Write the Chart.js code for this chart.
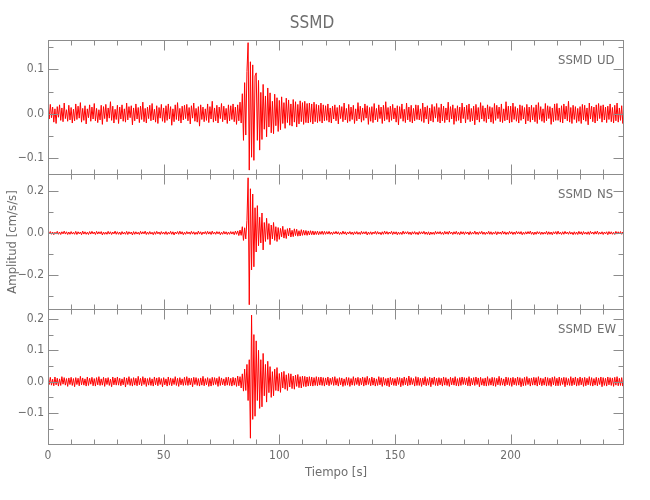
<!DOCTYPE html>
<html>
<head>
<meta charset="utf-8">
<script src="https://cdn.jsdelivr.net/npm/chart.js@4"></script>
<style>
  body { margin: 0; background: #fff; }
  #wrap { position: relative; width: 650px; height: 500px; }
  canvas { position: absolute; left: 0; }
</style>
</head>
<body>
<div id="wrap">
  <canvas id="c1" width="650" height="176" style="top:0px"></canvas>
  <canvas id="c2" width="650" height="137" style="top:174px"></canvas>
  <canvas id="c3" width="650" height="191" style="top:309px"></canvas>
</div>
<script>
// station / components
var station = 'SSMD';
var comps = ['UD', 'NS', 'EW'];

// time axis: two samples per second, start at 0
var t0 = 0;
var dt = 0.5;
var timeRange = [0, 249];
var timeTicks = [0, 50, 100, 150, 200];

// trace peaks every half second (cm/s/s), one row = 10 s
var ud = [
  .018,-.012,.021,-.009,.015,-.019,.011,-.022,.016,-.008,.020,-.015,.013,-.018,.024,-.011,.009,-.017,.019,-.014,
  .014,-.021,.010,-.016,.022,-.013,.017,-.010,.025,-.019,.012,-.015,.018,-.023,.011,-.009,.020,-.017,.015,-.012,
  .023,-.016,.012,-.020,.009,-.014,.019,-.024,.016,-.011,.021,-.018,.013,-.010,.027,-.015,.017,-.021,.010,-.013,
  .019,-.022,.015,-.012,.020,-.017,.011,-.019,.024,-.014,.016,-.009,.018,-.025,.013,-.016,.022,-.012,.014,-.020,
  .017,-.013,.026,-.018,.012,-.021,.015,-.011,.019,-.016,.023,-.014,.010,-.019,.018,-.022,.014,-.010,.021,-.017,
  .013,-.020,.018,-.015,.022,-.012,.016,-.026,.011,-.018,.020,-.013,.025,-.016,.012,-.021,.017,-.014,.019,-.011,
  .021,-.016,.014,-.023,.018,-.010,.024,-.017,.012,-.019,.016,-.028,.020,-.013,.015,-.018,.011,-.015,.022,-.020,
  .016,-.012,.028,-.019,.013,-.016,.019,-.021,.015,-.011,.023,-.018,.017,-.014,.012,-.022,.020,-.016,.018,-.013,
  .022,-.018,.015,-.024,.020,-.016,.026,-.021,.045,-.060,.070,-.048,.095,.160,-.127,.117,-.098,.110,-.105,.085,
  .092,-.060,.075,-.082,.048,-.058,.066,-.035,.040,-.052,.058,-.030,.047,-.043,.028,-.045,.044,-.027,.036,-.040,
  .030,-.036,.038,-.022,.025,-.033,.035,-.020,.031,-.026,.022,-.028,.032,-.019,.027,-.030,.021,-.023,.029,-.018,
  .025,-.024,.028,-.020,.023,-.021,.024,-.019,.022,-.023,.026,-.018,.021,-.020,.019,-.017,.024,-.021,.020,-.016,
  .018,-.015,.022,-.019,.013,-.021,.017,-.012,.020,-.016,.014,-.023,.019,-.011,.016,-.018,.024,-.014,.012,-.020,
  .021,-.017,.015,-.013,.019,-.022,.011,-.016,.025,-.012,.017,-.019,.013,-.015,.022,-.010,.018,-.024,.014,-.017,
  .016,-.020,.023,-.014,.012,-.018,.020,-.011,.015,-.022,.019,-.016,.027,-.013,.014,-.019,.017,-.015,.021,-.012,
  .013,-.019,.018,-.025,.016,-.011,.022,-.017,.010,-.020,.024,-.014,.015,-.018,.019,-.021,.012,-.016,.020,-.013,
  .019,-.014,.011,-.017,.024,-.020,.015,-.012,.018,-.023,.013,-.016,.021,-.019,.016,-.010,.023,-.018,.014,-.021,
  .022,-.016,.017,-.020,.013,-.014,.026,-.019,.016,-.012,.020,-.024,.012,-.017,.018,-.015,.015,-.021,.024,-.011,
  .015,-.021,.019,-.013,.022,-.018,.012,-.016,.017,-.025,.021,-.014,.014,-.019,.025,-.012,.018,-.017,.013,-.020,
  .020,-.012,.016,-.019,.014,-.022,.023,-.015,.019,-.011,.015,-.018,.022,-.020,.011,-.016,.027,-.014,.017,-.021,
  .017,-.019,.024,-.013,.016,-.017,.012,-.021,.020,-.015,.018,-.012,.014,-.023,.021,-.016,.015,-.019,.019,-.014,
  .014,-.018,.020,-.022,.025,-.013,.016,-.017,.011,-.020,.023,-.016,.018,-.011,.016,-.024,.013,-.018,.022,-.015,
  .023,-.015,.013,-.019,.018,-.021,.022,-.012,.017,-.016,.028,-.019,.014,-.022,.019,-.013,.016,-.020,.012,-.017,
  .016,-.022,.021,-.014,.019,-.017,.013,-.025,.024,-.012,.017,-.018,.015,-.021,.020,-.016,.023,-.011,.018,-.019,
  .020,-.014,.015,-.020,.017,-.013,.022,-.018,.014,-.021,.019,-.016,.024,-.019,.013,-.015,.018,-.022,.021,-.017
];
var ns = [
  .006,-.004,.007,-.006,.005,-.008,.004,-.005,.008,-.006,.005,-.007,.006,-.004,.009,-.005,.006,-.007,.005,-.006,
  .007,-.005,.004,-.006,.008,-.007,.006,-.004,.005,-.008,.009,-.005,.006,-.006,.004,-.007,.007,-.005,.008,-.004,
  .005,-.007,.008,-.005,.006,-.004,.007,-.009,.005,-.006,.004,-.006,.008,-.005,.006,-.007,.005,-.004,.009,-.006,
  .006,-.006,.005,-.008,.007,-.005,.004,-.006,.008,-.007,.006,-.004,.005,-.009,.007,-.006,.006,-.005,.004,-.007,
  .008,-.005,.006,-.004,.009,-.007,.005,-.006,.007,-.005,.004,-.008,.006,-.006,.008,-.004,.005,-.007,.007,-.005,
  .005,-.006,.007,-.007,.004,-.005,.008,-.006,.006,-.009,.005,-.004,.007,-.006,.009,-.005,.006,-.008,.004,-.006,
  .007,-.004,.005,-.006,.008,-.005,.006,-.007,.004,-.006,.009,-.005,.006,-.008,.005,-.004,.007,-.006,.008,-.005,
  .006,-.007,.009,-.005,.005,-.006,.007,-.004,.006,-.008,.004,-.006,.008,-.005,.006,-.007,.005,-.006,.007,-.005,
  .006,-.008,.009,-.006,.010,-.012,.014,-.011,.030,-.035,.025,-.028,.060,.262,-.340,.210,-.175,.185,-.160,.120,
  -.090,.130,-.060,.075,-.047,.095,-.080,.050,-.040,.070,-.030,.045,-.055,.038,-.028,.050,-.035,.030,-.040,.026,
  -.030,.022,-.018,.032,-.024,.016,-.026,.021,-.014,.024,-.019,.013,-.017,.020,-.012,.018,-.015,.011,-.014,.016,
  -.011,.013,-.010,.012,-.011,.010,-.009,.011,-.008,.010,-.009,.008,-.007,.009,-.008,.007,-.006,.009,-.007,.008,
  -.006,.007,-.005,.008,-.006,.005,-.007,.006,-.004,.008,-.005,.006,-.007,.004,-.006,.009,-.005,.006,-.008,.005,
  -.004,.007,-.006,.005,-.008,.006,-.005,.007,-.006,.004,-.007,.008,-.005,.006,-.004,.007,-.009,.005,-.006,.006,
  -.007,.005,-.004,.008,-.006,.007,-.005,.004,-.008,.006,-.006,.009,-.005,.007,-.006,.005,-.004,.008,-.007,.006,
  -.005,.006,-.008,.005,-.006,.004,-.007,.009,-.005,.006,-.004,.007,-.006,.005,-.008,.006,-.005,.007,-.006,.004,
  -.008,.007,-.005,.006,-.004,.008,-.006,.005,-.007,.006,-.009,.005,-.006,.004,-.007,.008,-.005,.006,-.004,.007,
  -.006,.004,-.007,.008,-.005,.006,-.006,.009,-.004,.005,-.007,.006,-.005,.008,-.006,.004,-.008,.007,-.005,.006,
  -.007,.006,-.004,.005,-.008,.007,-.006,.004,-.005,.009,-.006,.005,-.007,.006,-.004,.008,-.006,.005,-.007,.004,
  -.005,.008,-.006,.006,-.007,.004,-.005,.007,-.008,.006,-.004,.005,-.006,.009,-.005,.006,-.007,.004,-.006,.008,
  -.004,.006,-.007,.005,-.006,.008,-.004,.006,-.005,.007,-.008,.004,-.006,.006,-.005,.007,-.004,.009,-.006,.005,
  -.008,.005,-.006,.007,-.004,.006,-.007,.005,-.006,.004,-.005,.008,-.007,.006,-.006,.005,-.008,.006,-.004,.007,
  -.006,.009,-.005,.004,-.007,.006,-.006,.008,-.004,.005,-.006,.007,-.005,.004,-.008,.006,-.006,.005,-.007,.008,
  -.005,.006,-.008,.007,-.005,.004,-.006,.006,-.007,.008,-.004,.005,-.006,.007,-.005,.009,-.006,.004,-.005,.006,
  -.007,.005,-.004,.006,-.008,.007,-.005,.006,-.006,.004,-.007,.008,-.005,.006,-.004,.007,-.006,.005,-.008,.009
];
var ew = [
  .012,-.009,.014,-.011,.008,-.013,.015,-.010,.011,-.014,.009,-.012,.016,-.008,.013,-.011,.010,-.015,.012,-.009,
  .014,-.012,.010,-.016,.013,-.009,.011,-.013,.017,-.010,.012,-.011,.009,-.014,.015,-.012,.011,-.008,.014,-.013,
  .010,-.014,.013,-.010,.016,-.012,.009,-.011,.014,-.015,.011,-.009,.013,-.012,.008,-.016,.015,-.010,.012,-.011,
  .015,-.011,.011,-.013,.009,-.010,.014,-.017,.012,-.009,.016,-.012,.010,-.014,.013,-.011,.011,-.013,.017,-.010,
  .011,-.013,.016,-.009,.012,-.015,.010,-.011,.013,-.012,.009,-.014,.015,-.010,.012,-.013,.014,-.009,.010,-.016,
  .013,-.010,.009,-.014,.015,-.011,.012,-.013,.010,-.009,.016,-.012,.011,-.015,.013,-.010,.009,-.012,.014,-.011,
  .016,-.012,.012,-.010,.011,-.016,.014,-.009,.013,-.012,.010,-.014,.012,-.011,.017,-.013,.010,-.010,.013,-.015,
  .010,-.014,.014,-.011,.013,-.009,.011,-.015,.016,-.012,.012,-.010,.009,-.013,.014,-.011,.015,-.012,.011,-.014,
  .014,-.011,.012,-.015,.018,-.013,.016,-.020,.025,-.030,.040,-.028,.055,-.060,.070,-.180,.212,-.120,.150,-.110,
  .130,-.060,.100,-.085,.070,-.080,.090,-.045,.055,-.065,.065,-.035,.048,-.050,.032,-.045,.040,-.028,.045,-.030,
  .026,-.034,.030,-.020,.033,-.024,.022,-.028,.026,-.017,.025,-.022,.018,-.024,.021,-.015,.023,-.019,.016,-.020,
  .018,-.015,.017,-.016,.015,-.014,.016,-.013,.015,-.014,.013,-.012,.016,-.013,.014,-.011,.015,-.012,.013,-.014,
  .012,-.010,.015,-.013,.011,-.009,.014,-.012,.016,-.011,.010,-.014,.013,-.010,.012,-.015,.009,-.012,.014,-.011,
  .013,-.015,.010,-.011,.016,-.012,.012,-.009,.014,-.013,.011,-.010,.015,-.014,.013,-.011,.017,-.009,.011,-.013,
  .015,-.011,.012,-.014,.009,-.012,.016,-.010,.013,-.015,.014,-.011,.010,-.013,.012,-.016,.014,-.010,.011,-.012,
  .010,-.013,.014,-.009,.013,-.016,.011,-.012,.015,-.010,.012,-.013,.018,-.011,.013,-.009,.010,-.014,.016,-.012,
  .014,-.012,.011,-.015,.012,-.010,.016,-.013,.010,-.011,.014,-.016,.012,-.009,.015,-.012,.011,-.013,.013,-.010,
  .011,-.014,.015,-.011,.013,-.012,.009,-.015,.014,-.010,.012,-.011,.016,-.013,.010,-.014,.013,-.012,.015,-.009,
  .013,-.010,.012,-.013,.016,-.014,.011,-.010,.013,-.012,.015,-.009,.012,-.016,.014,-.011,.010,-.013,.012,-.014,
  .016,-.012,.010,-.011,.014,-.013,.013,-.015,.011,-.010,.017,-.012,.012,-.011,.009,-.014,.015,-.010,.013,-.012,
  .012,-.015,.014,-.010,.011,-.012,.015,-.011,.013,-.016,.010,-.013,.014,-.012,.016,-.009,.011,-.014,.012,-.011,
  .014,-.011,.013,-.014,.016,-.010,.012,-.013,.010,-.011,.015,-.014,.013,-.012,.011,-.015,.014,-.010,.016,-.013,
  .011,-.013,.015,-.012,.012,-.009,.014,-.016,.013,-.011,.010,-.012,.016,-.013,.012,-.010,.015,-.014,.011,-.012,
  .015,-.010,.012,-.015,.014,-.013,.011,-.010,.016,-.012,.013,-.014,.010,-.011,.014,-.013,.012,-.009,.015,-.016,
  .013,-.012,.011,-.014,.015,-.010,.013,-.012,.012,-.015,.014,-.011,.016,-.013,.011,-.012,.013,-.014,.012,-.011
];

// y axis limits and labelled ticks per panel
var udRange = [-0.138, 0.166];
var nsRange = [-0.365, 0.280];
var ewRange = [-0.2016, 0.2315];
var udTicks = [-0.1, 0.0, 0.1];
var nsTicks = [-0.2, 0.0, 0.2];
var ewTicks = [-0.1, 0.0, 0.1, 0.2];

var FONT = "'Liberation Sans Narrow', 'DejaVu Sans Condensed', Roboto, sans-serif";
var TEXT = '#6e6e6e';
var AXIS = '#8c8c8c';
Chart.defaults.font.family = FONT;
Chart.defaults.color = TEXT;

function yLabel(v) {
  if (Math.abs(v) < 1e-9) return '0.0';
  return (v < 0 ? '\u2212' : '') + Math.abs(v).toFixed(1);
}

// per-canvas settings for the frame plugin (kept out of chart options)
var panelInfo = {};

// frame with inward ticks on all four sides + component label
var frameTicks = {
  id: 'frameTicks',
  afterDraw(chart) {
    var info = panelInfo[chart.canvas.id];
    var ctx = chart.ctx, a = chart.chartArea;
    var x = chart.scales.x, y = chart.scales.y;
    var L = Math.round(a.left) + 0.5, R = Math.round(a.right) - 0.5;
    var T = Math.round(a.top) + 0.5, B = Math.round(a.bottom) - 0.5;
    ctx.save();
    ctx.strokeStyle = AXIS;
    ctx.lineWidth = 1;
    ctx.strokeRect(L, T, R - L, B - T);
    ctx.beginPath();
    for (var t = timeRange[0]; t <= timeRange[1]; t += 10) {
      var px = Math.round(x.getPixelForValue(t)) + 0.5;
      var len = (timeTicks.indexOf(t) >= 0) ? 10 : 5;
      ctx.moveTo(px, T); ctx.lineTo(px, T + len);
      ctx.moveTo(px, B); ctx.lineTo(px, B - len);
    }
    var k0 = Math.ceil(y.min / info.minor - 1e-6);
    var k1 = Math.floor(y.max / info.minor + 1e-6);
    for (var k = k0; k <= k1; k++) {
      var v = k * info.minor;
      var py = Math.round(y.getPixelForValue(v)) + 0.5;
      var major = info.ticks.some(function (tv) { return Math.abs(tv - v) < 1e-6; });
      var len2 = major ? 10 : 5;
      ctx.moveTo(L, py); ctx.lineTo(L + len2, py);
      ctx.moveTo(R, py); ctx.lineTo(R - len2, py);
    }
    ctx.stroke();
    ctx.fillStyle = TEXT;
    ctx.font = "13px " + FONT;
    ctx.textBaseline = 'middle';
    ctx.textAlign = 'left';
    ctx.fillText(station, a.right - 66, a.top + 21);
    ctx.fillText(info.comp, a.right - 27, a.top + 21);
    ctx.restore();
  }
};

function makePanel(id, values, range, ticks, minor, comp, extra) {
  panelInfo[id] = { ticks: ticks, minor: minor, comp: comp };
  var xScale = {
    type: 'linear', min: timeRange[0], max: timeRange[1], display: false,
    afterFit: function (s) { s.paddingLeft = 0; s.paddingRight = 0; }
  };
  if (extra.xAxis) {
    xScale = {
      type: 'linear', min: timeRange[0], max: timeRange[1], display: true,
      grid: { display: false, drawTicks: false },
      border: { display: false },
      afterBuildTicks: function (s) { s.ticks = timeTicks.map(function (v) { return { value: v }; }); },
      ticks: { color: TEXT, font: { size: 12 }, padding: 4, maxRotation: 0,
        callback: function (v) { return String(v); } },
      title: { display: true, text: 'Tiempo [s]', color: TEXT, font: { size: 13 }, padding: { top: 4, bottom: 5 } },
      afterFit: function (s) { s.height = 40; s.paddingLeft = 0; s.paddingRight = 0; }
    };
  }
  var yScale = {
    type: 'linear', min: range[0], max: range[1],
    grid: { display: false, drawTicks: false },
    border: { display: false },
    afterBuildTicks: function (s) { s.ticks = ticks.map(function (v) { return { value: v }; }); },
    ticks: { color: TEXT, font: { size: 12 }, padding: 4, callback: yLabel },
    afterFit: function (s) { s.width = 48; s.paddingTop = 0; s.paddingBottom = 0; }
  };
  if (extra.yTitle) {
    yScale.title = { display: true, text: 'Amplitud [cm/s/s]', color: TEXT, font: { size: 13 }, padding: { top: 5, bottom: 0 } };
  }
  return new Chart(document.getElementById(id), {
    type: 'line',
    data: {
      datasets: [{
        data: values.map(function (v, i) { return { x: t0 + i * dt, y: v }; }),
        borderColor: '#ff0000',
        borderWidth: 1,
        pointRadius: 0,
        tension: 0
      }]
    },
    options: {
      responsive: false,
      animation: false,
      events: [],
      layout: { padding: extra.padding },
      scales: { x: xScale, y: yScale },
      plugins: {
        legend: { display: false },
        tooltip: { enabled: false },
        title: extra.title ? {
          display: true, text: station, color: TEXT,
          font: { size: 17, weight: 'normal' },
          padding: { top: 13, bottom: 6.6 }
        } : { display: false }
      }
    },
    plugins: [frameTicks]
  });
}

makePanel('c1', ud, udRange, udTicks, 0.05, comps[0],
  { title: true, padding: { top: 0, bottom: 1, left: 0, right: 26 } });
makePanel('c2', ns, nsRange, nsTicks, 0.1, comps[1],
  { yTitle: true, padding: { top: 0, bottom: 1, left: 0, right: 26 } });
makePanel('c3', ew, ewRange, ewTicks, 0.05, comps[2],
  { xAxis: true, padding: { top: 0, bottom: 15, left: 0, right: 26 } });
</script>
</body>
</html>
